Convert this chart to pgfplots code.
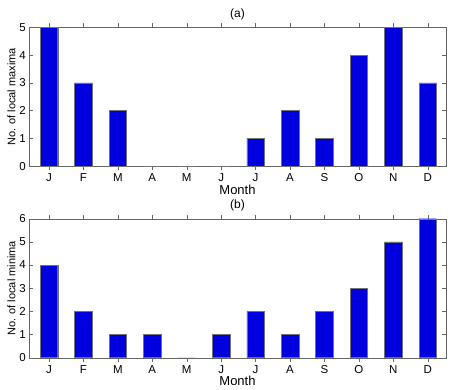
\documentclass[border=0pt]{standalone}
\usepackage{pgfplots}
\pgfplotsset{compat=1.18}
\usepackage{fontspec}
\setmainfont{Liberation Sans}
\definecolor{barblue}{RGB}{0,0,222}

\pgfplotsset{
  monthax/.style={
    scale only axis,
    width=416.4pt, height=139pt,
    xmin=0.43, xmax=12.52,
    ymin=0,
    enlargelimits=false,
    xtick={1,...,12},
    xticklabels={J,F,M,A,M,J,J,A,S,O,N,D},
    tick align=inside,
    major tick length=4pt,
    axis line style={black!60},
    every tick/.style={black!60},
    /pgf/number format/assume math mode=true,
    tick label style={font=\fontsize{11.5}{13}\selectfont},
    xlabel={Month},
    xlabel style={font=\fontsize{13}{15}\selectfont, yshift=4pt},
    ylabel style={font=\fontsize{11}{13}\selectfont, yshift=-3pt},
    title style={font=\fontsize{12}{14}\selectfont, yshift=-2pt},
    ybar, bar width=0.51,
  }
}

\begin{document}
\begin{tikzpicture}
\path[use as bounding box] (-29.3pt,-223.7pt) rectangle (422.7pt,166.3pt);

\begin{axis}[monthax, at={(0pt,0pt)}, ymax=5, ytick={0,...,5},
  ylabel={No. of local maxima}, title={(a)}]
\addplot[fill=barblue, draw=black!55] coordinates {
(1,5) (2,3) (3,2) (4,0) (5,0) (6,0) (7,1) (8,2) (9,1) (10,4) (11,5) (12,3)};
\end{axis}

\begin{axis}[monthax, at={(0pt,-191.4pt)}, ymax=6, ytick={0,...,6},
  ylabel={No. of local minima}, title={(b)}]
\addplot[fill=barblue, draw=black!55] coordinates {
(1,4) (2,2) (3,1) (4,1) (5,0) (6,1) (7,2) (8,1) (9,2) (10,3) (11,5) (12,6)};
\end{axis}
\end{tikzpicture}
\end{document}
